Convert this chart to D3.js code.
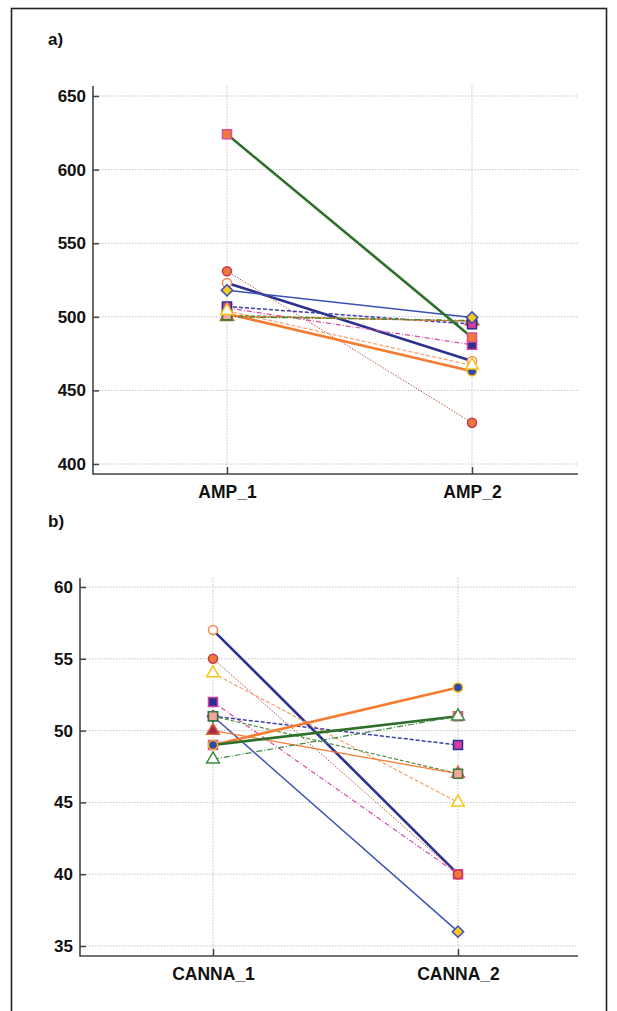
<!DOCTYPE html>
<html><head><meta charset="utf-8">
<script src="https://cdn.jsdelivr.net/npm/d3@7"></script>
<style>body{margin:0;background:#fff}svg{display:block}</style>
</head><body><svg id="c" width="617" height="1011"></svg>
<script>
// ---- data ----
const ampCategories = ["AMP_1", "AMP_2"];
const cannaCategories = ["CANNA_1", "CANNA_2"];
const ampTicks = [400, 450, 500, 550, 600, 650];
const cannaTicks = [35, 40, 45, 50, 55, 60];
// one entry per case (same order in all arrays)
const caseIds = ["A", "B", "C", "D", "I", "E", "K", "F", "G", "J", "H"];
const amp1 = [523, 531, 504, 506, 507, 501, 518, 500.5, 502, 624, 500];
const amp2 = [470, 428, 467, 481, 495, 497, 499.5, 497, 463, 486, 497.5];
const canna1 = [57, 55, 54, 52, 51, 51, 51, 50, 49, 49, 48];
const canna2 = [40, 40, 45, 40, 49, 47, 36, 47, 53, 51, 51];

// ---- styles ----
const lineStyle = {
  A: {c: "#2d3190", w: 2.6, d: null},
  B: {c: "#b5574a", w: 1, d: "1.5,1.5"},
  C: {c: "#f7a070", w: 1.2, d: "4,2"},
  D: {c: "#d94aa8", w: 1.2, d: "5,2,1,2"},
  I: {c: "#3b3fa5", w: 1.5, d: "4,2"},
  E: {c: "#4e8f45", w: 1.2, d: "4,2"},
  K: {c: "#3b50b5", w: 1.4, d: null},
  F: {c: "#f47b30", w: 1.3, d: null},
  G: {c: "#f47b30", w: 2.6, d: null},
  J: {c: "#2e6f2a", w: 2.6, d: null},
  H: {c: "#3f8a3f", w: 1.2, d: "6,2,1,2"}
};
const markerStyle = {
  A: {t: d3.symbolCircle, s: 64, f: "#ffffff", k: "#f58a4b", r: 0},
  B: {t: d3.symbolCircle, s: 64, f: "#f0773a", k: "#c23b50", r: 0},
  C: {t: d3.symbolTriangle, s: 70, f: "#ffffff", k: "#f5c518", r: 0},
  D: {t: d3.symbolSquare, s: 81, f: "#2b2f8f", k: "#d63ca0", r: 0},
  I: {t: d3.symbolSquare, s: 81, f: "#d63ca0", k: "#2b2f8f", r: 0},
  E: {t: d3.symbolSquare, s: 81, f: "#f4a6a0", k: "#3a7a35", r: 0},
  K: {t: d3.symbolSquare, s: 64, f: "#f8c81c", k: "#3a4fb5", r: 45},
  F: {t: d3.symbolTriangle, s: 70, f: "#9e2a4a", k: "#e0603a", r: 0},
  G: {t: d3.symbolCircle, s: 64, f: "#2e4aa8", k: "#f5b316", r: 0},
  J: {t: d3.symbolSquare, s: 81, f: "#f07a3a", k: "#d6509a", r: 0},
  H: {t: d3.symbolTriangle, s: 70, f: "#ffffff", k: "#3d8b3d", r: 0}
};
const ampMarkerOrder = ["A", "D", "B", "J", "H", "G", "F", "E", "I", "K", "C"];
const cannaMarkerOrder = ["A", "D", "B", "J", "H", "G", "F", "I", "K", "E", "C"];

const svg = d3.select("#c");
const FONT = "Liberation Sans, Arial, sans-serif";
// frame
svg.append("rect").attr("x", 11.5).attr("y", 8.5).attr("width", 595).attr("height", 1020)
  .attr("fill", "none").attr("stroke", "#222").attr("stroke-width", 1.6);

function panel(o) {
  const g = svg.append("g");
  const x = d3.scalePoint().domain(o.cats).range([o.cx0, o.cx1]);
  const y = d3.scaleLinear().domain([o.ticks[0], o.ticks[o.ticks.length - 1]]).range([o.yBot, o.yTop]);
  // grid
  g.selectAll(".hg").data(o.ticks).join("line")
    .attr("x1", o.left).attr("x2", o.right).attr("y1", d => y(d)).attr("y2", d => y(d))
    .attr("stroke", "#c4c4c4").attr("stroke-width", 1).attr("stroke-dasharray", "1.5,1.5");
  g.selectAll(".vg").data(o.cats).join("line")
    .attr("x1", d => x(d)).attr("x2", d => x(d)).attr("y1", o.axTop).attr("y2", o.axBot)
    .attr("stroke", "#c4c4c4").attr("stroke-width", 1).attr("stroke-dasharray", "1.5,1.5");
  // axes
  const ya = g.append("g").attr("transform", `translate(${o.left},0)`)
    .call(d3.axisRight(y).tickValues(o.ticks).tickSize(6).tickFormat(d3.format("d")));
  ya.select(".domain").remove();
  ya.selectAll("line").attr("stroke", "#444").attr("stroke-width", 1.5);
  ya.selectAll("text").attr("x", -7).attr("text-anchor", "end")
    .attr("font-family", FONT).attr("font-weight", "bold")
    .attr("font-size", 17).attr("fill", "#111");
  const xa = g.append("g").attr("transform", `translate(0,${o.axBot})`)
    .call(d3.axisTop(x).tickSize(7));
  xa.select(".domain").remove();
  xa.selectAll("line").attr("stroke", "#444").attr("stroke-width", 1.5);
  xa.selectAll("text").attr("y", 24).attr("dy", 0)
    .attr("font-family", FONT).attr("font-weight", "bold")
    .attr("font-size", 17.5).attr("fill", "#111");
  g.append("line").attr("x1", o.left).attr("x2", o.left).attr("y1", o.axTop).attr("y2", o.axBot + 0.75)
    .attr("stroke", "#444").attr("stroke-width", 1.6);
  g.append("line").attr("x1", o.left).attr("x2", o.right).attr("y1", o.axBot).attr("y2", o.axBot)
    .attr("stroke", "#444").attr("stroke-width", 1.6);
  // label
  g.append("text").attr("x", o.lx).attr("y", o.ly).text(o.label)
    .attr("font-family", FONT).attr("font-weight", "bold")
    .attr("font-size", 17).attr("fill", "#111");
  // lines
  const rows = caseIds.map((id, i) => ({id, v: [o.v1[i], o.v2[i]]}));
  g.selectAll(".ln").data(rows).join("line")
    .attr("x1", x(o.cats[0])).attr("x2", x(o.cats[1]))
    .attr("y1", d => y(d.v[0])).attr("y2", d => y(d.v[1]))
    .attr("stroke", d => lineStyle[d.id].c).attr("stroke-width", d => lineStyle[d.id].w)
    .attr("stroke-dasharray", d => lineStyle[d.id].d);
  // markers
  const pts = [];
  o.order.forEach(id => {
    const r = rows.find(q => q.id === id);
    o.cats.forEach((c, j) => pts.push({id, c, v: r.v[j]}));
  });
  g.selectAll(".mk").data(pts).join("path")
    .attr("transform", d => `translate(${x(d.c)},${y(d.v)}) rotate(${markerStyle[d.id].r})`)
    .attr("d", d => d3.symbol(markerStyle[d.id].t, markerStyle[d.id].s)())
    .attr("fill", d => markerStyle[d.id].f).attr("stroke", d => markerStyle[d.id].k)
    .attr("stroke-width", 1.5);
}

panel({cats: ampCategories, ticks: ampTicks, v1: amp1, v2: amp2, order: ampMarkerOrder,
  left: 93, right: 578, cx0: 227, cx1: 472, yTop: 96, yBot: 464, axTop: 86, axBot: 474,
  label: "a)", lx: 48, ly: 45});
panel({cats: cannaCategories, ticks: cannaTicks, v1: canna1, v2: canna2, order: cannaMarkerOrder,
  left: 80, right: 578, cx0: 213, cx1: 458, yTop: 587, yBot: 946, axTop: 578, axBot: 956,
  label: "b)", lx: 48, ly: 527});
</script></body></html>
